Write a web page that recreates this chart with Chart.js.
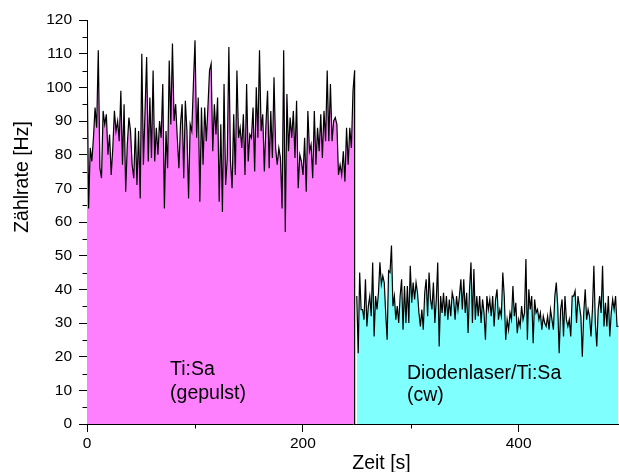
<!DOCTYPE html>
<html>
<head>
<meta charset="utf-8">
<script src="https://cdn.jsdelivr.net/npm/chart.js@4.4.1/dist/chart.umd.min.js"></script>
<style>
  html, body { margin: 0; padding: 0; background: #fff; }
  #graphCanvas { display: block; }
</style>
</head>
<body>
<canvas id="graphCanvas" width="619" height="472"></canvas>
<script>
// count rate [Hz], pulsed Ti:Sa, t = 0 .. 248 s
var pulsedRate = [
  111, 64, 82, 78, 85, 94, 88, 111, 76, 73,
  93, 89, 92, 80, 86, 74, 82, 93, 87, 90,
  84, 99, 77, 95, 69, 83, 91, 87, 77, 73,
  88, 71, 87, 67, 110, 77, 93, 109, 78, 97,
  79, 105, 78, 88, 80, 90, 85, 101, 64, 87,
  76, 108, 89, 113, 90, 95, 85, 76, 89, 95,
  73, 96, 87, 67, 89, 87, 101, 114, 85, 97,
  66, 94, 77, 94, 84, 94, 105, 107, 81, 95,
  86, 97, 66, 89, 63, 101, 71, 79, 112, 78,
  70, 92, 74, 105, 85, 88, 82, 92, 74, 101,
  78, 86, 85, 94, 75, 100, 85, 111, 87, 92,
  75, 89, 99, 76, 93, 79, 103, 82, 77, 82,
  79, 64, 111, 57, 98, 81, 91, 85, 93, 79,
  96, 70, 80, 78, 74, 85, 69, 93, 81, 83,
  73, 93, 77, 88, 81, 92, 79, 93, 84, 105,
  84, 101, 84, 90, 91, 89, 74, 77, 74, 81,
  72, 88, 77, 88, 82, 99, 105
];
// count rate [Hz], diode laser / Ti:Sa (cw), t = 250 .. 492.5 s
var cwRate = [
  38, 21, 45, 34, 34, 31, 43, 29, 35, 38,
  32, 48, 26, 38, 34, 39, 48, 41.5, 44, 42,
  33, 25, 45.5, 45, 53, 35, 38, 31, 35, 30,
  38, 43, 28, 41, 30, 41, 30, 47, 36, 42,
  37, 42, 39, 33, 29, 34, 28, 39, 43, 32,
  45, 37, 34, 42, 30, 37, 48, 23, 38, 33,
  39, 32, 38, 31, 37, 32, 39, 37, 31, 38,
  34, 38, 43, 34, 43, 33, 39, 27, 40,
  48, 30, 46, 31, 38, 32, 38, 30, 37, 33,
  25, 38, 34, 37, 32, 38, 29, 37, 40, 31,
  34, 32, 45, 38, 25, 31, 28, 33, 31, 41,
  32, 36, 27, 31, 29, 35, 31, 33, 49, 25,
  40, 34, 38, 24, 37, 33, 34, 31, 33, 28,
  32, 30, 29, 32, 28, 34, 31, 28, 38, 42,
  35, 21, 34, 37, 26, 38, 31, 29, 31, 26,
  38, 38, 39.5, 30, 38, 35, 32, 20, 33, 40,
  31, 34, 32, 26, 34, 47, 30, 23, 34, 38,
  33, 47, 29, 36, 29, 38, 26, 33, 37, 34,
  38, 29, 29
];
var pulsedStart = 0, pulsedEnd = 248;
var cwStart = 250, cwEnd = 492.5;
var xTicksAll = [0, 100, 200, 300, 400];
var xTicksMajor = [0, 200, 400];
var yTicksMajor = [0, 10, 20, 30, 40, 50, 60, 70, 80, 90, 100, 110, 120];

var FONT = '"Liberation Sans", Arial, sans-serif';

function toPoints(values, t0, t1) {
  var dt = (t1 - t0) / (values.length - 1);
  return values.map(function (v, i) { return { x: t0 + i * dt, y: v }; });
}

var extras = {
  id: 'extras',
  afterDatasetsDraw: function (chart) {
    var ctx = chart.ctx, x = chart.scales.x, y = chart.scales.y;
    ctx.save();
    // dark edge where the pulsed area ends
    var ex = x.getPixelForValue(pulsedEnd);
    ctx.strokeStyle = '#000';
    ctx.lineWidth = 1.2;
    ctx.beginPath();
    ctx.moveTo(ex, y.getPixelForValue(pulsedRate[pulsedRate.length - 1]));
    ctx.lineTo(ex, y.getPixelForValue(0));
    ctx.stroke();

    ctx.fillStyle = '#000';
    ctx.font = '19.5px ' + FONT;
    ctx.textAlign = 'left';
    ctx.textBaseline = 'alphabetic';
    var bx = x.getPixelForValue(77), by = y.getPixelForValue(14.5);
    ctx.fillText('Ti:Sa', bx, by);
    ctx.fillText('(gepulst)', bx, by + 24);
    bx = x.getPixelForValue(296.5); by = y.getPixelForValue(13.4);
    ctx.fillText('Diodenlaser/Ti:Sa', bx, by);
    ctx.fillText('(cw)', bx, by + 22);
    ctx.restore();
  },
  afterDraw: function (chart) {
    var ctx = chart.ctx, x = chart.scales.x, y = chart.scales.y;
    ctx.save();
    ctx.strokeStyle = '#000';
    ctx.lineWidth = 1;
    // minor ticks
    x.ticks.forEach(function (t) {
      if (xTicksMajor.indexOf(t.value) >= 0) return;
      var px = Math.round(x.getPixelForValue(t.value)) + 0.5;
      ctx.beginPath(); ctx.moveTo(px, y.bottom); ctx.lineTo(px, y.bottom + 4.5); ctx.stroke();
    });
    y.ticks.forEach(function (t) {
      if (yTicksMajor.indexOf(t.value) >= 0) return;
      var py = Math.round(y.getPixelForValue(t.value)) + 0.5;
      ctx.beginPath(); ctx.moveTo(x.left, py); ctx.lineTo(x.left - 4.5, py); ctx.stroke();
    });
    // axis titles
    ctx.fillStyle = '#000';
    ctx.font = '19.5px ' + FONT;
    ctx.textAlign = 'center';
    ctx.textBaseline = 'alphabetic';
    ctx.fillText('Zeit [s]', 381.5, 469);
    ctx.translate(23, 177);
    ctx.rotate(-Math.PI / 2);
    ctx.textBaseline = 'middle';
    ctx.fillText('Zählrate [Hz]', 0, 0);
    ctx.restore();
  }
};

var chartdata = {
  datasets: [
    {
      label: 'Ti:Sa (gepulst)',
      data: toPoints(pulsedRate, pulsedStart, pulsedEnd),
      borderColor: '#000000',
      backgroundColor: '#ff80ff',
      borderWidth: 1.2,
      fill: 'origin'
    },
    {
      label: 'Diodenlaser/Ti:Sa (cw)',
      data: toPoints(cwRate, cwStart, cwEnd),
      borderColor: '#000000',
      backgroundColor: '#80ffff',
      borderWidth: 1.2,
      fill: 'origin'
    }
  ]
};

var graphTarget = document.getElementById('graphCanvas');
var graph = new Chart(graphTarget, {
  type: 'line',
  data: chartdata,
  plugins: [extras],
  options: {
    responsive: false,
    animation: false,
    layout: { padding: { top: 20, right: 0, bottom: 0, left: 0 } },
    plugins: { legend: { display: false }, tooltip: { enabled: false } },
    elements: { point: { radius: 0 }, line: { tension: 0 } },
    scales: {
      x: {
        type: 'linear',
        min: 0,
        max: 493,
        border: { display: true, color: '#000', width: 1 },
        grid: {
          drawOnChartArea: false,
          drawTicks: true,
          tickLength: 8,
          color: 'rgba(0,0,0,0)',
          tickColor: function (c) { return c.tick && xTicksMajor.indexOf(c.tick.value) >= 0 ? '#000' : 'rgba(0,0,0,0)'; }
        },
        ticks: {
          autoSkip: false,
          maxRotation: 0,
          padding: 2,
          color: '#000',
          font: { family: FONT, size: 15.5 },
          callback: function (v) { return xTicksMajor.indexOf(v) >= 0 ? v : ''; }
        },
        afterBuildTicks: function (s) {
          s.ticks = xTicksAll.map(function (v) { return { value: v }; });
        },
        afterFit: function (s) { s.height = 48; }
      },
      y: {
        min: 0,
        max: 120,
        border: { display: true, color: '#000', width: 1 },
        grid: {
          drawOnChartArea: false,
          drawTicks: true,
          tickLength: 8,
          color: 'rgba(0,0,0,0)',
          tickColor: function (c) { return c.tick && yTicksMajor.indexOf(c.tick.value) >= 0 ? '#000' : 'rgba(0,0,0,0)'; }
        },
        ticks: {
          stepSize: 5,
          autoSkip: false,
          padding: 7,
          color: '#000',
          font: { family: FONT, size: 15.5 },
          callback: function (v) { return yTicksMajor.indexOf(v) >= 0 ? v : ''; }
        },
        afterFit: function (s) { s.width = 87; }
      }
    }
  }
});
</script>
</body>
</html>
